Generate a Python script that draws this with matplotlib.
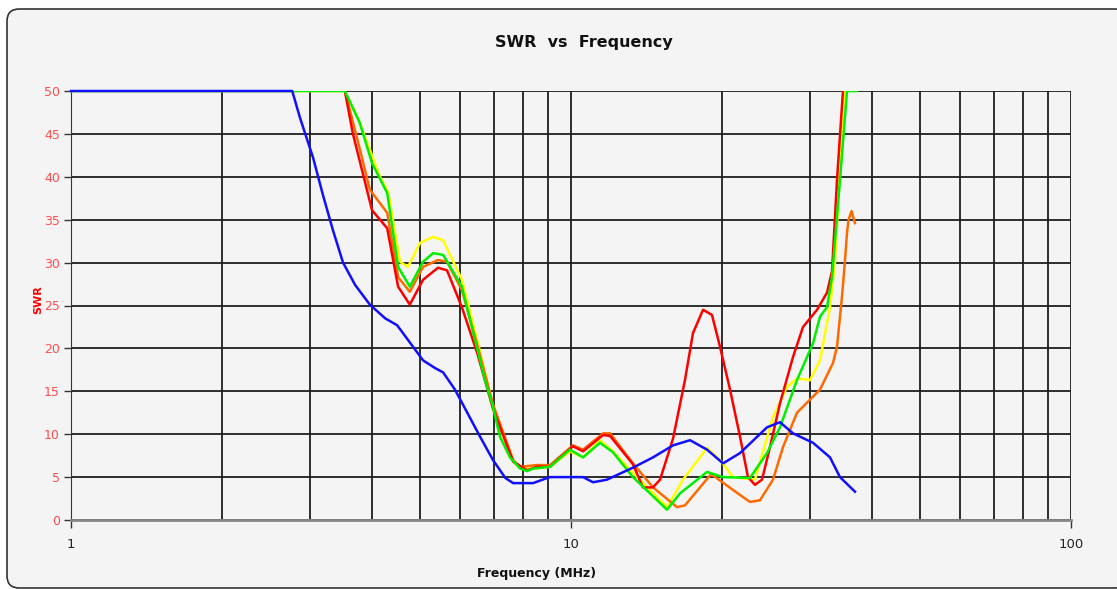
import matplotlib
matplotlib.use("Agg")
import matplotlib.pyplot as plt
from matplotlib.patches import FancyBboxPatch
from matplotlib.ticker import LogLocator, FixedLocator, NullFormatter

# ---- data (frequency in MHz, SWR) ----
blue_f = [1, 2.77, 2.87, 3.05, 3.19, 3.34, 3.50, 3.70, 3.96, 4.25, 4.49, 4.76, 5.06, 5.35,
          5.55, 5.86, 6.19, 6.58, 6.98, 7.39, 7.66, 8.40, 8.87, 9.08,
          10.57, 11.07, 11.80, 13.30, 14.59, 16.0, 17.3, 18.71, 20.14, 21.78, 24.66, 26.18,
          27.80, 30.48, 32.96, 34.51, 36.98]
blue_swr = [50, 50, 46.9, 42.2, 37.9, 33.8, 30.0, 27.4, 25.1, 23.5, 22.7, 20.7, 18.6, 17.7,
            17.2, 15.2, 12.6, 9.7, 7.0, 4.9, 4.3, 4.3, 4.8, 5.0,
            5.0, 4.4, 4.7, 6.1, 7.3, 8.7, 9.3, 8.2, 6.6, 7.8, 10.8, 11.4,
            10.1, 9.0, 7.3, 5.0, 3.3]

red_f = [3.53, 3.66, 4.00, 4.29, 4.51, 4.76, 5.06, 5.42, 5.65, 6.05, 6.49, 6.98, 7.66, 8.17,
         8.55, 9.08, 10.09, 10.57, 11.59, 11.97, 13.30, 13.93, 14.59, 15.07, 16.0, 16.9,
         17.54, 18.37, 19.14, 19.86, 20.80, 21.78, 22.59, 23.33, 24.10, 25.0, 26.18, 27.80,
         29.11, 31.05, 32.51, 33.27, 34.04, 34.99]
red_swr = [50, 45.1, 36.1, 34.0, 27.2, 25.1, 28.0, 29.4, 29.1, 24.8, 19.5, 13.0, 6.8, 5.8,
           6.2, 6.2, 8.6, 8.0, 9.9, 9.8, 6.5, 3.8, 3.8, 4.7, 9.5, 16.3,
           21.8, 24.5, 23.9, 20.2, 15.2, 9.7, 5.0, 4.1, 4.7, 8.5, 13.6, 19.0,
           22.5, 24.5, 26.5, 29.0, 39.6, 50]

orange_f = [3.53, 3.73, 3.96, 4.29, 4.51, 4.76, 5.06, 5.42, 5.65, 6.05, 6.49, 6.98, 7.66,
            7.91, 8.55, 9.08, 10.09, 10.57, 11.59, 11.97, 13.30, 14.59, 16.29, 16.90, 18.97,
            19.23, 21.09, 22.80, 23.88, 25.35, 26.55, 28.31, 31.48, 33.42, 34.04, 34.83,
            35.32, 35.65, 35.90, 36.40, 36.64, 36.98]
orange_swr = [50, 44.6, 38.5, 35.8, 28.3, 26.6, 29.5, 30.3, 30.1, 26.8, 20.5, 13.5, 7.0,
              6.2, 6.4, 6.4, 8.7, 8.2, 10.1, 10.1, 6.6, 3.8, 1.5, 1.7, 5.2,
              5.2, 3.5, 2.1, 2.3, 4.7, 8.5, 12.5, 15.2, 18.3, 20.2, 26.0,
              30.3, 33.5, 35.0, 36.0, 35.4, 34.6]

yellow_f = [1, 3.53, 3.78, 4.15, 4.31, 4.55, 4.72, 4.99, 5.30, 5.55, 6.05, 6.49, 6.98, 7.55,
            7.91, 8.40, 9.08, 9.95, 10.57, 11.43, 12.13, 13.30, 14.39, 15.56, 16.75, 18.71,
            19.86, 21.09, 23.33, 25.35, 27.04, 28.31, 30.06, 31.48, 32.96, 33.73, 34.99, 35.3]
yellow_swr = [50, 50, 46.3, 40.0, 38.2, 30.1, 29.5, 32.3, 33.0, 32.6, 28.0, 21.0, 13.3, 7.3,
              6.0, 6.0, 6.2, 8.0, 7.3, 9.3, 8.0, 5.5, 3.5, 1.5, 4.7, 8.4,
              7.0, 5.0, 4.7, 12.0, 15.5, 16.5, 16.3, 18.6, 24.8, 30.0, 47.4, 50]

green_f = [1, 3.53, 3.78, 4.00, 4.29, 4.51, 4.76, 5.06, 5.30, 5.55, 6.05, 6.73, 6.98, 7.21,
           7.55, 7.91, 8.17, 8.40, 9.08, 9.95, 10.57, 11.43, 12.13, 13.30, 14.39, 15.56,
           16.52, 18.71, 20.14, 22.80, 24.66, 26.18, 28.31, 30.48, 31.48, 32.51, 33.27,
           34.51, 35.65, 37.33]
green_swr = [50, 50, 46.3, 41.6, 38.1, 29.5, 27.2, 30.1, 31.1, 30.9, 27.2, 16.3, 13.2, 9.7,
             7.3, 6.0, 5.7, 6.0, 6.2, 8.2, 7.3, 9.0, 7.9, 5.0, 3.1, 1.2,
             3.1, 5.6, 5.0, 4.9, 7.8, 10.8, 16.3, 20.6, 23.7, 24.8, 28.3,
             39.6, 50, 50]

y_ticks = [0, 5, 10, 15, 20, 25, 30, 35, 40, 45, 50]
x_ticks = [1, 10, 100]
x_tick_labels = ["1", "10", "100"]

W, H = 1117, 589
fig = plt.figure(figsize=(W / 100, H / 100), dpi=100)
fig.patch.set_facecolor("white")

# rounded chart border (cut at the right and bottom edges as in the source)
border = FancyBboxPatch((7 / W, 1 / H), (W + 3) / W, (H - 10) / H,
                        boxstyle="round,pad=0,rounding_size=0.011",
                        transform=fig.transFigure, facecolor="#f4f4f4",
                        edgecolor="#333333", linewidth=1.2, zorder=-5,
                        mutation_aspect=W / H)
fig.patches.append(border)

ax = fig.add_axes([71 / W, (H - 520) / H, 1000 / W, 429 / H])
ax.set_zorder(2)
ax.set_facecolor("#f4f4f4")
ax.set_xscale("log")
ax.set_xlim(1, 100)
ax.set_ylim(0, 50)

ax.xaxis.set_major_locator(FixedLocator(x_ticks))
ax.set_xticklabels(x_tick_labels)
ax.xaxis.set_minor_locator(LogLocator(base=10, subs=range(2, 10)))
ax.xaxis.set_minor_formatter(NullFormatter())
ax.set_yticks(y_ticks)

ax.grid(True, which="both", axis="x", color="#1e1e1e", linewidth=1.3)
ax.grid(True, which="major", axis="y", color="#1e1e1e", linewidth=1.3)
ax.set_axisbelow(True)

for s in ["top", "right"]:
    ax.spines[s].set_visible(False)
ax.spines["left"].set_color("#333333")
ax.spines["bottom"].set_color("#888888")
ax.spines["bottom"].set_linewidth(2)

ax.tick_params(axis="y", colors="#333333", labelcolor="#ff4d4d", labelsize=9,
               length=5, width=1, direction="out", pad=3)
ax.tick_params(axis="x", which="major", colors="#333333", labelcolor="#222222",
               labelsize=9.5, length=6, width=1, direction="out", pad=7)
ax.tick_params(axis="x", which="minor", length=0)

lw = 1.8
ax.plot(yellow_f, yellow_swr, color="#ffff00", lw=lw, zorder=3)
ax.plot(orange_f, orange_swr, color="#ff6a00", lw=lw, zorder=3)
ax.plot(red_f, red_swr, color="#ff0000", lw=lw, zorder=4)
ax.plot(green_f, green_swr, color="#00ee00", lw=lw, zorder=5)
ax.plot(blue_f, blue_swr, color="#1010ff", lw=lw, zorder=6, clip_on=False)

fig.text(584 / W, 1 - 43 / H, "SWR  vs  Frequency", ha="center", va="center",
         fontsize=11.5, fontweight="bold", color="#111111")
fig.text(38 / W, 1 - 300 / H, "SWR", ha="center", va="center", rotation=90,
         fontsize=8, fontweight="bold", color="#ff0000")
fig.text(537 / W, 1 - 573 / H, "Frequency (MHz)", ha="center", va="center",
         fontsize=9, fontweight="bold", color="#111111")

fig.savefig("out.png", dpi=100, facecolor="white")
